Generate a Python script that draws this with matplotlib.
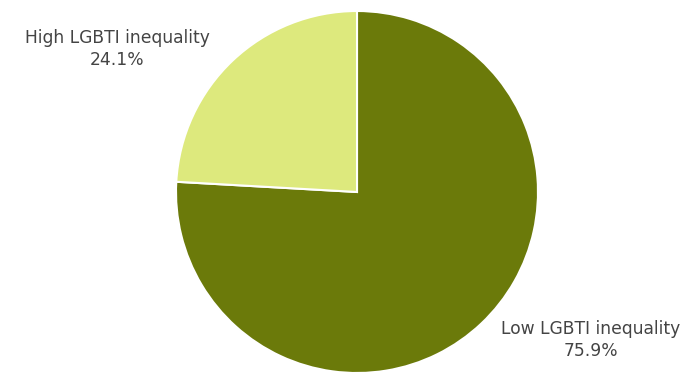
import matplotlib
matplotlib.use("Agg")
import matplotlib.pyplot as plt

plt.rcParams["font.family"] = ["DejaVu Sans"]
plt.rcParams["font.sans-serif"] = ["DejaVu Sans"]

categories = ["Low LGBTI inequality", "High LGBTI inequality"]
values = [75.9, 24.1]
colors = ["#6b7a0a", "#dde97d"]

W, H = 691, 372
fig = plt.figure(figsize=(W / 100, H / 100), dpi=100)
ax = fig.add_axes([0, 0, 1, 1])

cx, cy, r = 357, H - 192, 181
ax.pie(values, colors=colors, startangle=90, counterclock=False,
       center=(cx, cy), radius=r, frame=True,
       wedgeprops=dict(edgecolor="white", linewidth=1.5))
ax.set_xlim(0, W)
ax.set_ylim(0, H)
ax.set_aspect("equal")
ax.axis("off")

label_pos = [(591, H - 340), (117, H - 49)]
for (x, y), cat, v in zip(label_pos, categories, values):
    ax.text(x, y, f"{cat}\n{v:.1f}%", ha="center", va="center",
            fontsize=12.3, color="#444444", linespacing=1.3)

fig.savefig("out.png", dpi=100)
